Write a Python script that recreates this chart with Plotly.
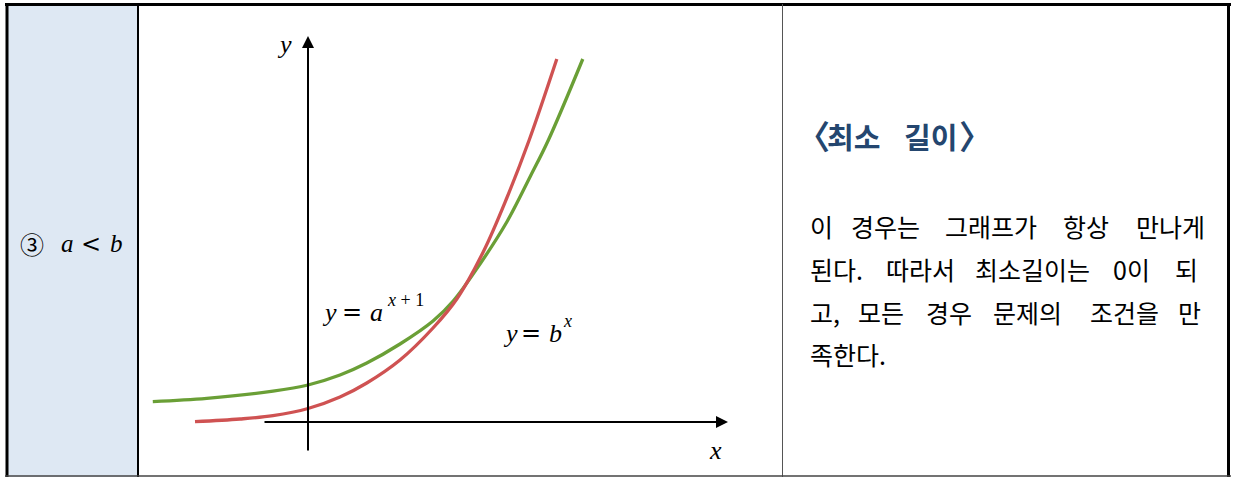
import plotly.graph_objects as go

W, H = 1233, 477

# curve points (x, y in axis units, origin at the axes' crossing)
green_x = [-3.88, -2.53, -0.875, 0, 0.8, 1.47, 2.3, 3.125, 3.63, 4.3, 4.97, 5.55, 6.01, 6.87]
green_y = [0.51, 0.59, 0.77, 0.925, 1.175, 1.475, 1.95, 2.525, 3.025, 3.95, 5.0, 6.125, 7.05, 9.075]
red_x = [-2.825, -1.7, -0.875, 0, 0.8, 1.47, 2.3, 3.125, 3.72, 4.38, 4.97, 5.53, 6.22]
red_y = [0.0075, 0.075, 0.16, 0.3375, 0.625, 0.975, 1.55, 2.35, 3.075, 4.25, 5.6, 7.05, 9.075]

case_label = "③"
title_words = ["〈", "최소", "길이", "〉"]
body_lines = [
    ["이", "경우는", "그래프가", "항상", "만나게"],
    ["된다.", "따라서", "최소길이는", "0이", "되"],
    ["고,", "모든", "경우", "문제의", "조건을", "만"],
    ["족한다."],
]
body_word_x = [
    [808, 849, 943, 1061, 1134],
    [808, 884, 973, 1111, 1173],
    [808, 856, 924, 991, 1088, 1176],
    [808],
]
body_line_y = [226, 269, 312, 354]

GREEN = "#6a9f36"
RED = "#cf5252"
TITLE_BLUE = "#24466f"
MATH = "Liberation Serif, DejaVu Serif, serif"
SYM = "DejaVu Serif, serif"
KR = "Noto Sans CJK KR, Noto Sans, sans-serif"


def px(x):
    return x / W


def py(y):
    return 1 - y / H


fig = go.Figure()
fig.add_trace(go.Scatter(x=green_x, y=green_y, mode="lines",
                         line=dict(color=GREEN, width=3.3, shape="spline", smoothing=1.0),
                         hoverinfo="skip"))
fig.add_trace(go.Scatter(x=red_x, y=red_y, mode="lines",
                         line=dict(color=RED, width=3.3, shape="spline", smoothing=1.0),
                         hoverinfo="skip"))

shapes = [
    # left cell fill
    dict(type="rect", xref="paper", yref="paper", x0=px(7), x1=px(138), y0=py(477), y1=py(4),
         fillcolor="#dee8f3", line=dict(width=0), layer="below"),
    # table borders
    dict(type="line", xref="paper", yref="paper", x0=px(5), x1=px(1231), y0=py(4.5), y1=py(4.5),
         line=dict(color="black", width=3)),
    dict(type="line", xref="paper", yref="paper", x0=px(7), x1=px(7), y0=py(3), y1=py(477),
         line=dict(color="black", width=3)),
    dict(type="line", xref="paper", yref="paper", x0=px(138), x1=px(138), y0=py(3), y1=py(477),
         line=dict(color="black", width=2)),
    dict(type="line", xref="paper", yref="paper", x0=px(782.5), x1=px(782.5), y0=py(4), y1=py(477),
         line=dict(color="#555555", width=1)),
    dict(type="line", xref="paper", yref="paper", x0=px(1228.5), x1=px(1228.5), y0=py(3), y1=py(477),
         line=dict(color="black", width=3)),
    dict(type="line", xref="paper", yref="paper", x0=px(5), x1=px(1231), y0=py(476), y1=py(476),
         line=dict(color="#444444", width=1.5)),
]

annotations = [
    # axes with arrowheads
    dict(x=10.5, y=0, ax=-1.125, ay=0, xref="x", yref="y", axref="x", ayref="y",
         text="", showarrow=True, arrowhead=2, arrowsize=1.2, arrowwidth=2, arrowcolor="black"),
    dict(x=0, y=9.65, ax=0, ay=-0.75, xref="x", yref="y", axref="x", ayref="y",
         text="", showarrow=True, arrowhead=2, arrowsize=1.2, arrowwidth=2, arrowcolor="black"),
]


def label(text, x, y, size, color="black", family=MATH, xanchor="center"):
    annotations.append(dict(x=px(x), y=py(y), xref="paper", yref="paper", text=text,
                            showarrow=False, xanchor=xanchor, yanchor="middle",
                            font=dict(size=size, color=color, family=family)))


# axis names
label("<i>y</i>", 284, 45, 26)
label("<i>x</i>", 715, 450, 26)
# y = a^(x+1)
label("<i>y</i>", 329, 312, 26)
label("=", 352, 312, 24, family=SYM)
label("<i>a</i>", 376, 312, 26)
label("<i>x</i> + 1", 405, 300, 18)
# y = b^x
label("<i>y</i>", 510, 333, 26)
label("=", 531, 333, 24, family=SYM)
label("<i>b</i>", 555, 333, 26)
label("<i>x</i>", 567, 321, 18)
# left cell
label(case_label, 32, 243, 24, family=KR)
label("<i>a</i>", 67, 243, 25)
label("&lt;", 91, 244, 24, family=SYM)
label("<i>b</i>", 116, 243, 25)
# right cell
label("<b>" + title_words[0] + "</b>", 813, 135, 33, color=TITLE_BLUE, family=KR)
label("<b>" + title_words[1] + "</b>", 825, 136, 29, color=TITLE_BLUE, family=KR, xanchor="left")
label("<b>" + title_words[2] + "</b>", 902, 136, 29, color=TITLE_BLUE, family=KR, xanchor="left")
label("<b>" + title_words[3] + "</b>", 975, 135, 33, color=TITLE_BLUE, family=KR)
for words, xs, y in zip(body_lines, body_word_x, body_line_y):
    for w, x in zip(words, xs):
        label(w, x, y, 25, family=KR, xanchor="left")

fig.update_layout(
    width=W, height=H,
    margin=dict(l=0, r=0, t=0, b=0),
    paper_bgcolor="white", plot_bgcolor="rgba(0,0,0,0)",
    showlegend=False,
    xaxis=dict(range=[-7.7, 23.125], visible=False, fixedrange=True),
    yaxis=dict(range=[-1.375, 10.55], visible=False, fixedrange=True),
    shapes=shapes, annotations=annotations,
)

fig.write_html("out.html", config={"displayModeBar": False},
               post_script="document.body.style.margin='0';document.body.style.overflow='hidden';")
